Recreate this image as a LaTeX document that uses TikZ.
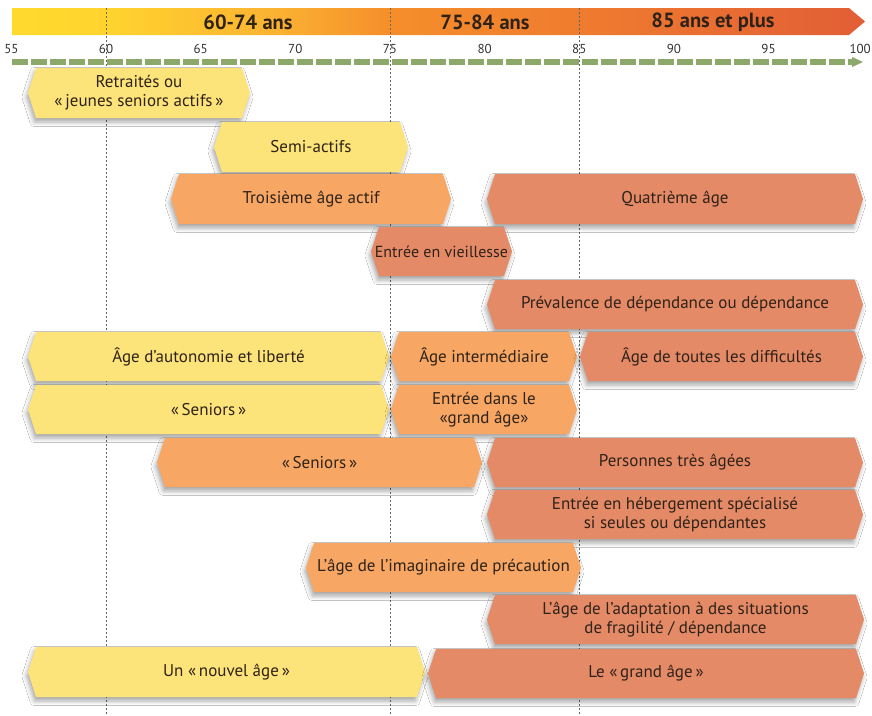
\documentclass[tikz,border=0pt]{standalone}
\usepackage{fontspec}
\setmainfont{PT Sans}
\usetikzlibrary{shadows.blur}

\definecolor{bandyellow}{HTML}{FDE47A}
\definecolor{bandorange}{HTML}{F7A763}
\definecolor{bandcoral}{HTML}{E58A67}
\definecolor{inkbrown}{HTML}{2E2219}
\definecolor{scalegreen}{HTML}{8CA86A}
\definecolor{barA}{HTML}{FFDA2D}
\definecolor{barB}{HTML}{FFD42E}
\definecolor{barC}{HTML}{FBB232}
\definecolor{barD}{HTML}{F58F2A}
\definecolor{barE}{HTML}{EF7B2F}
\definecolor{barF}{HTML}{E25E36}

% colour ramp of the age bar (the path box spans 25bp..75bp)
\pgfdeclarehorizontalshading{agebar}{100bp}{%
  color(0bp)=(barA); color(25bp)=(barA); color(30.5bp)=(barB);
  color(40.5bp)=(barC); color(47bp)=(barD); color(58.5bp)=(barE);
  color(75bp)=(barF); color(100bp)=(barF)}

\tikzset{
  bandshape/.style={blur shadow={shadow xshift=-1.5pt,shadow yshift=-4pt,
      shadow blur radius=4.5pt,shadow opacity=35}},
  bandtext/.style={text=inkbrown,align=center,inner sep=0pt,
      font=\fontsize{17}{19}\selectfont},
  guide/.style={draw=black!60,line width=0.7pt,dash pattern=on 2pt off 2pt},
  ticklabel/.style={font=\fontsize{13}{15}\selectfont,text=black!80,inner sep=0pt},
  periodlabel/.style={font=\fontsize{20.5}{23}\selectfont\bfseries,text=inkbrown,inner sep=0pt},
}

% #1 name, #2 fill, #3 left, #4 right, #5 top, #6 bottom, #7 label
\newcommand{\agebandbox}[7]{%
  \path[bandshape,fill=#2]
    (#3,{(#5+#6)/2}) -- (#3+8,#5) -- (#4-8,#5) -- (#4,{(#5+#6)/2})
    -- (#4-8,#6) -- (#3+8,#6) -- cycle;
  \node[bandtext] (#1) at ({(#3+#4)/2},{(#5+#6)/2}) {#7};
}

\begin{document}
\begin{tikzpicture}[x=1pt,y=-1pt]
\useasboundingbox[fill=white] (0,0) rectangle (872,715);

% age bar with its three periods
\path[shading=agebar] (12,8) -- (849,8) -- (865,21.5) -- (849,35) -- (12,35) -- cycle;
\node[periodlabel] (p1) at (248,22) {60-74 ans};
\node[periodlabel] (p2) at (485,22) {75-84 ans};
\node[periodlabel] (p3) at (713,22) {85 ans et plus};

% scale numbers
\foreach \a in {55,60,...,95}
  \node[ticklabel] (t\a) at ({106+(\a-60)*18.93},49) {\a};
\node[ticklabel,anchor=east] (t100) at (871,49) {100};

% green dashed scale arrow
\coordinate (sA) at (12,62);
\coordinate (sB) at (852,62);
\coordinate (sC) at (863,62);
\draw[scalegreen,line width=6pt,dash pattern=on 16pt off 3pt] (sA) -- (sB);
\fill[scalegreen] ([yshift=-5pt]sB) -- (sC) -- ([yshift=5pt]sB) -- cycle;

% guides at 60, 75 and 85
\foreach \x in {106,390,579}
  \draw[guide] (\x,8) -- (\x,715);

% the bands
\agebandbox{retraites}{bandyellow}{28}{250}{68}{118}{Retraités ou\\«\,jeunes seniors actifs\,»}
\agebandbox{semiactifs}{bandyellow}{214}{408}{122}{172}{Semi-actifs}
\agebandbox{troisieme}{bandorange}{171}{451}{174}{224}{Troisième âge actif}
\agebandbox{quatrieme}{bandcoral}{487}{863}{174}{224}{Quatrième âge}
\agebandbox{vieillesse}{bandcoral}{371}{512}{227}{276}{\fontsize{16}{19}\selectfont Entrée en vieillesse}
\agebandbox{prevalence}{bandcoral}{487}{863}{280}{329}{Prévalence de dépendance ou dépendance}
\agebandbox{autonomie}{bandyellow}{28}{389}{332}{381}{Âge d’autonomie et liberté}
\agebandbox{intermediaire}{bandorange}{391}{577}{332}{381}{Âge intermédiaire}
\agebandbox{difficultes}{bandcoral}{580}{863}{332}{381}{Âge de toutes les difficultés}
\agebandbox{seniorsA}{bandyellow}{28}{389}{385}{434}{«\,Seniors\,»}
\agebandbox{grandentree}{bandorange}{391}{577}{385}{434}{Entrée dans le\\«grand âge»}
\agebandbox{seniorsB}{bandorange}{157}{482}{438}{487}{«\,Seniors\,»}
\agebandbox{tresages}{bandcoral}{487}{863}{438}{487}{Personnes très âgées}
\agebandbox{hebergement}{bandcoral}{487}{863}{490}{539}{Entrée en hébergement spécialisé\\si seules ou dépendantes}
\agebandbox{precaution}{bandorange}{306}{581}{543}{592}{L’âge de l’imaginaire de précaution}
\agebandbox{adaptation}{bandcoral}{487}{864}{595}{644}{L’âge de l’adaptation à des situations\\de fragilité / dépendance}
\agebandbox{nouvel}{bandyellow}{28}{425}{647}{697}{Un «\,nouvel âge\,»}
\agebandbox{grandage}{bandcoral}{428}{864}{649}{698}{Le «\,grand âge\,»}
\end{tikzpicture}
\end{document}
